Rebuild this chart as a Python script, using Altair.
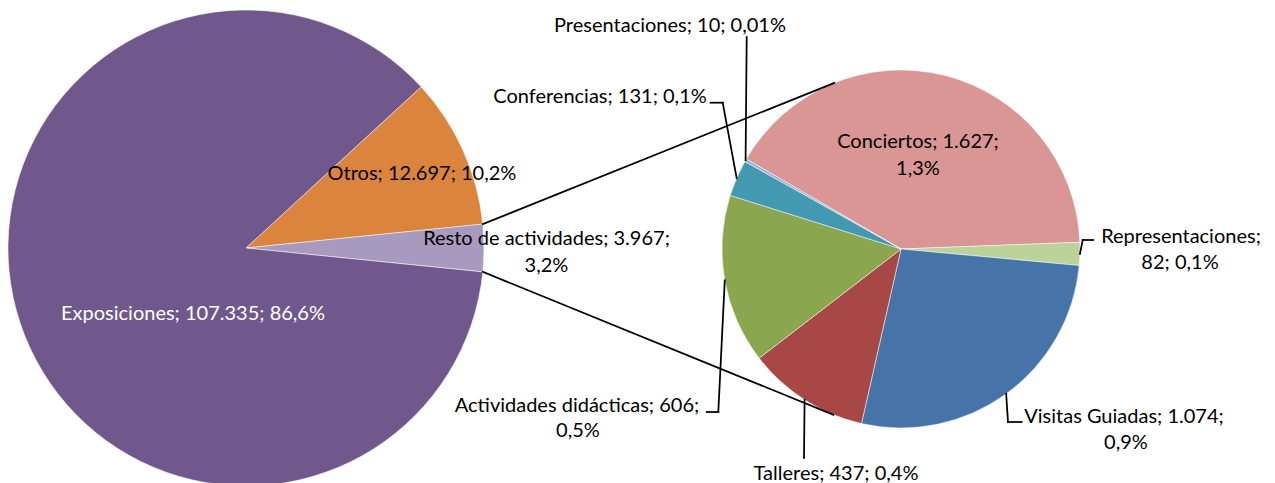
import math
import altair as alt
import pandas as pd

# ---------------- data ----------------
main_labels = ["Otros", "Resto de actividades", "Exposiciones"]
main_values = [12697, 3967, 107335]
main_pcts = ["10,2%", "3,2%", "86,6%"]

sub_labels = ["Conciertos", "Representaciones", "Visitas Guiadas", "Talleres",
              "Actividades didácticas", "Conferencias", "Presentaciones"]
sub_values = [1627, 82, 1074, 437, 606, 131, 10]
sub_pcts = ["1,3%", "0,1%", "0,9%", "0,4%", "0,5%", "0,1%", "0,01%"]

# ---------------- styles / layout ----------------
main_colors = ["#DB843D", "#A899BF", "#70588D"]
sub_colors = ["#D99694", "#BBD29B", "#4673A8", "#A84846", "#8AA64F", "#4299B1", "#9BB0D6"]

OFF = 8
L_CX, L_CY, L_R = 246 - OFF, 248 - OFF, 238
R_CX, R_CY, R_R = 901 - OFF, 249 - OFF, 179
SUB_START = math.radians(-59.8)
FONT = "Lato"
FS = 20

# label layout: (parts on first line, [(x, baseline y), ...]) in page pixels
label_layout = {
    "Exposiciones": (3, [(193, 320)], "white"),
    "Otros": (3, [(422, 180)], "black"),
    "Resto de actividades": (2, [(546.5, 245), (546.5, 272)], "black"),
    "Conciertos": (2, [(918, 148), (918, 175)], "black"),
    "Representaciones": (1, [(1181, 243), (1180, 269)], "black"),
    "Visitas Guiadas": (2, [(1124, 423), (1126, 449)], "black"),
    "Talleres": (3, [(836, 480)], "black"),
    "Actividades didácticas": (2, [(577, 412), (578, 437)], "black"),
    "Conferencias": (3, [(600, 103)], "black"),
    "Presentaciones": (3, [(670, 32)], "black"),
}
# leader line bends (after the slice edge point), page pixels
leader_layout = {
    "Presentaciones": [(746.7, 37)],
    "Conferencias": [(722.7, 102.7), (710.5, 102.7)],
    "Representaciones": [(1082.7, 240), (1093.3, 240)],
    "Visitas Guiadas": [(1008, 422), (1021.7, 422)],
    "Talleres": [(804, 458)],
    "Actividades didácticas": [(718.3, 412), (706.7, 412)],
}


def fmt(v):
    return f"{v:,}".replace(",", ".")


def pt(cx, cy, r, t):
    return cx + r * math.sin(t), cy - r * math.cos(t)


# ---------------- pies ----------------
main_total = sum(main_values)
sub_total = sum(sub_values)
main_start = math.pi / 2 - (main_values[0] + main_values[1] / 2) / main_total * 2 * math.pi

main_df = pd.DataFrame({"label": main_labels, "value": main_values,
                        "idx": list(range(len(main_labels)))})
sub_df = pd.DataFrame({"label": sub_labels, "value": sub_values,
                       "idx": list(range(len(sub_labels)))})

all_labels = main_labels + sub_labels
all_colors = main_colors + sub_colors
color_scale = alt.Scale(domain=all_labels, range=all_colors)

left_pie = alt.Chart(main_df).mark_arc(radius=L_R, stroke="white", strokeWidth=0.5).encode(
    theta=alt.Theta("value:Q", stack=True,
                    scale=alt.Scale(range=[main_start, main_start + 2 * math.pi])),
    order=alt.Order("idx:Q"),
    color=alt.Color("label:N", scale=color_scale, legend=None),
    x=alt.value(L_CX), y=alt.value(L_CY),
)

right_pie = alt.Chart(sub_df).mark_arc(radius=R_R, stroke="white", strokeWidth=0.5).encode(
    theta=alt.Theta("value:Q", stack=True,
                    scale=alt.Scale(range=[SUB_START, SUB_START + 2 * math.pi])),
    order=alt.Order("idx:Q"),
    color=alt.Color("label:N", scale=color_scale, legend=None),
    x=alt.value(R_CX), y=alt.value(R_CY),
)

# ---------------- connector lines (pie of pie) ----------------
t1 = main_start + main_values[0] / main_total * 2 * math.pi
t2 = t1 + main_values[1] / main_total * 2 * math.pi
P1 = pt(L_CX, L_CY, L_R, t1)
P2 = pt(L_CX, L_CY, L_R, t2)


def tangent(P, upper):
    dx, dy = P[0] - R_CX, P[1] - R_CY
    d = math.hypot(dx, dy)
    a = math.acos(R_R / d)
    ux, uy = dx / d, dy / d
    cands = []
    for s in (1, -1):
        rx = ux * math.cos(a) - uy * math.sin(a) * s
        ry = ux * math.sin(a) * s + uy * math.cos(a)
        cands.append((R_CX + R_R * rx, R_CY + R_R * ry))
    cands.sort(key=lambda c: c[1])
    return cands[0] if upper else cands[1]


T1 = tangent(P1, True)
T2 = tangent(P2, False)

segs = [(P1, T1), (P2, T2)]

# ---------------- leader lines ----------------
cum = 0
sub_mid = {}
for lab, v in zip(sub_labels, sub_values):
    sub_mid[lab] = SUB_START + (cum + v / 2) / sub_total * 2 * math.pi
    cum += v

for lab, bends in leader_layout.items():
    e = pt(R_CX, R_CY, R_R, sub_mid[lab])
    pts = [e] + [(x - OFF, y - OFF) for x, y in bends]
    for a, b in zip(pts[:-1], pts[1:]):
        segs.append((a, b))

seg_df = pd.DataFrame({
    "x": [s[0][0] for s in segs], "y": [s[0][1] for s in segs],
    "x2": [s[1][0] for s in segs], "y2": [s[1][1] for s in segs],
})

lines = alt.Chart(seg_df).mark_rule(color="black", strokeWidth=1.75, strokeCap="square").encode(
    x=alt.X("x:Q", scale=None, axis=None), y=alt.Y("y:Q", scale=None, axis=None),
    x2="x2:Q", y2="y2:Q",
)

# ---------------- labels ----------------
rows = []
for labs, vals, pcts in ((main_labels, main_values, main_pcts), (sub_labels, sub_values, sub_pcts)):
    for lab, v, p in zip(labs, vals, pcts):
        parts = [f"{lab};", f"{fmt(v)};", p]
        split, pos, col = label_layout[lab]
        texts = [" ".join(parts[:split])]
        if split < 3:
            texts.append(" ".join(parts[split:]))
        for t, (x, y) in zip(texts, pos):
            rows.append({"text": t, "x": x - OFF, "y": y - OFF, "col": col})
lab_df = pd.DataFrame(rows)


def text_layer(col):
    return alt.Chart(lab_df).transform_filter(alt.datum.col == col).mark_text(
        font=FONT, fontSize=FS, align="center", baseline="alphabetic", color=col
    ).encode(
        x=alt.X("x:Q", scale=None, axis=None), y=alt.Y("y:Q", scale=None, axis=None),
        text="text:N",
    )


chart = alt.layer(left_pie, right_pie, lines, text_layer("black"), text_layer("white")).resolve_scale(
    theta="independent"
).properties(
    width=1259, height=475, padding=0, autosize=alt.AutoSizeParams(type="none"),
).configure_view(stroke=None)

chart.save("out.html", embed_options={"renderer": "svg", "actions": False})
